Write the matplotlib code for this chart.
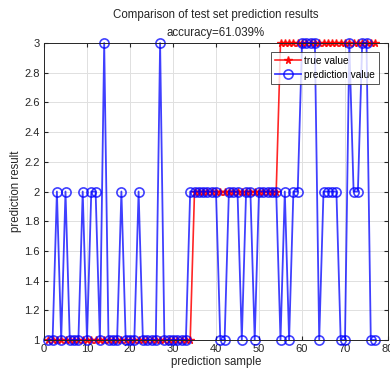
import matplotlib
matplotlib.use("Agg")
import matplotlib.pyplot as plt
import numpy as np

plt.rcParams['font.family'] = ['Liberation Sans', 'DejaVu Sans']

samples = list(range(1, 78))
true_values = [1] * 34 + [2] * 20 + [3] * 23
pred_values = [1, 1, 2, 1, 2, 1, 1, 1, 2, 1,
               2, 2, 1, 3, 1, 1, 1, 2, 1, 1,
               1, 2, 1, 1, 1, 1, 3, 1, 1, 1,
               1, 1, 1, 2, 2, 2, 2, 2, 2, 2,
               1, 1, 2, 2, 2, 1, 2, 2, 1, 2,
               2, 2, 2, 2, 1, 2, 1, 2, 2, 3,
               3, 3, 3, 1, 2, 2, 2, 2, 1, 1,
               3, 2, 2, 3, 3, 1, 1]
title_lines = ["Comparison of test set prediction results", "accuracy=61.039%"]
x_ticks = [0, 10, 20, 30, 40, 50, 60, 70, 80]
y_ticks = [1, 1.2, 1.4, 1.6, 1.8, 2, 2.2, 2.4, 2.6, 2.8, 3]
y_tick_labels = ["1", "1.2", "1.4", "1.6", "1.8", "2", "2.2", "2.4", "2.6", "2.8", "3"]

fig = plt.figure(figsize=(3.9, 3.76), dpi=100)
ax = fig.add_axes([44/390, 1-340/376, (388-44)/390, (340-43)/376])

ax.plot(samples, true_values, color='#ff0000', marker='*', markersize=5.5,
        linewidth=1.2, alpha=0.85, label='true value', clip_on=False)
ax.plot(samples, pred_values, color='#0000ff', marker='o', markersize=6.6,
        markerfacecolor='none', markeredgewidth=1.2, linewidth=1.3, alpha=0.75,
        label='prediction value', clip_on=False)

ax.set_xlim(0, 80)
ax.set_ylim(1, 3)
ax.set_xticks(x_ticks)
ax.set_yticks(y_ticks)
ax.set_yticklabels(y_tick_labels)
ax.tick_params(direction='in', top=True, right=True, labelsize=8, length=3,
               color='#262626', labelcolor='#262626', pad=3)
ax.grid(True, color='#e0e0e0', linewidth=0.7)
ax.set_axisbelow(True)
for s in ax.spines.values():
    s.set_color('#262626')
    s.set_linewidth(0.7)

ax.set_title("\n".join(title_lines), fontsize=8.3, color='#262626', pad=5,
             linespacing=1.65)
ax.set_xlabel("prediction sample", fontsize=8.3, color='#262626', labelpad=1)
ax.set_ylabel("prediction result", fontsize=8.3, color='#262626', labelpad=2)

leg = ax.legend(loc='upper right', bbox_to_anchor=(0.975, 0.97), fontsize=7.3,
                frameon=True, fancybox=False, edgecolor='#262626',
                handlelength=2.6, borderpad=0.4, labelspacing=0.35,
                handletextpad=0.3, borderaxespad=0)
leg.get_frame().set_linewidth(0.7)

fig.savefig("out.png", dpi=100)
